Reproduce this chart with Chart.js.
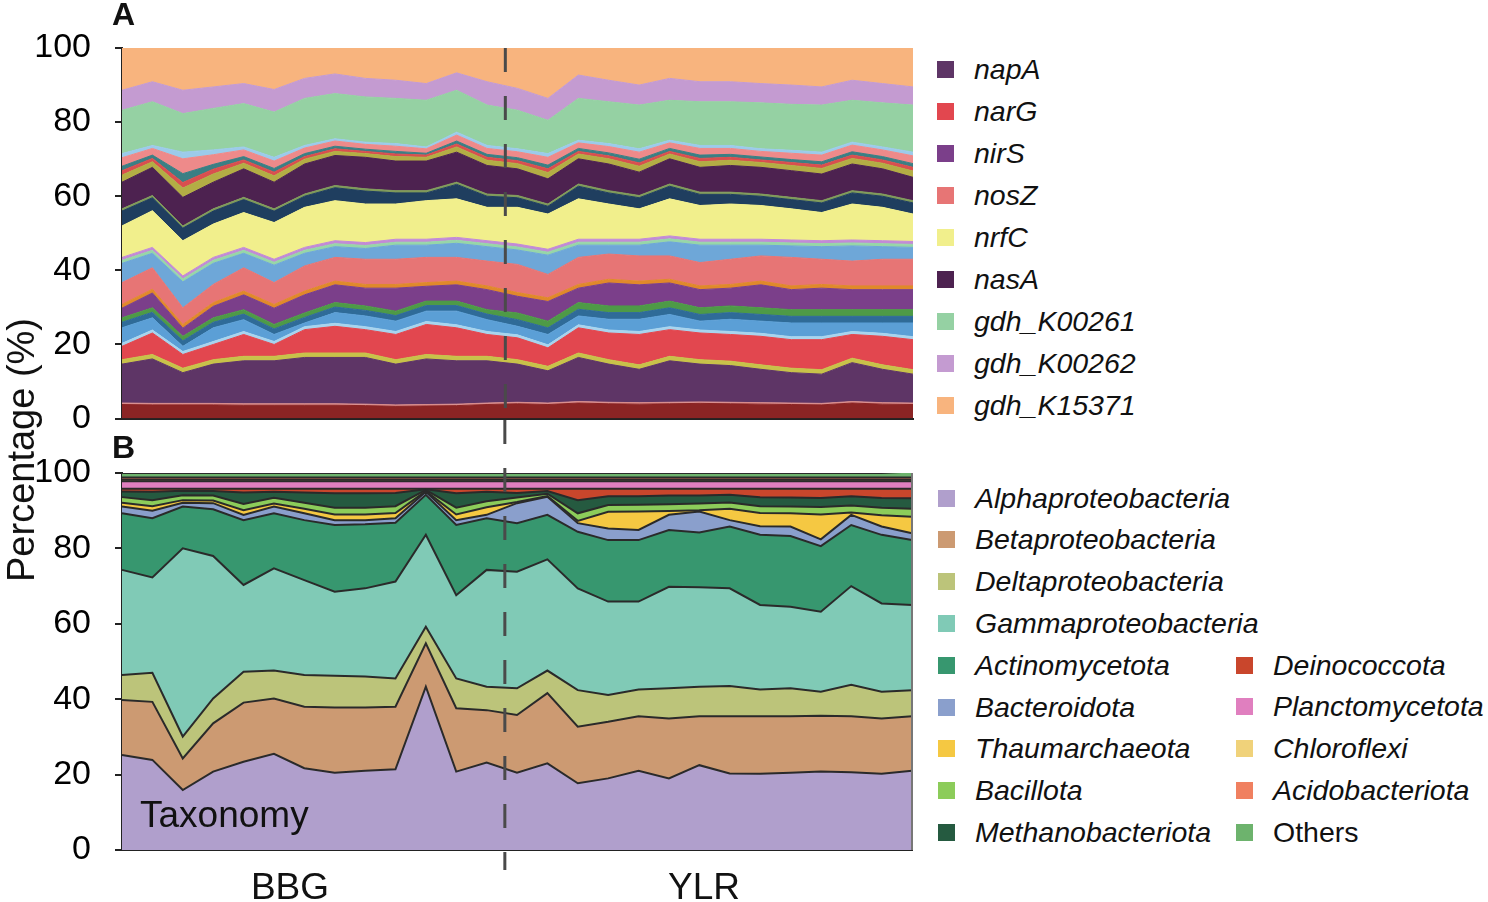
<!DOCTYPE html>
<html>
<head>
<meta charset="utf-8">
<script src="https://cdn.jsdelivr.net/npm/chart.js@4.4.1/dist/chart.umd.min.js"></script>
<style>
body{margin:0;background:#fff;font-family:"Liberation Sans",Arial,sans-serif;color:#111;}
#fig{position:relative;width:1488px;height:902px;overflow:hidden;}
#chartA{position:absolute;left:0;top:0;}
#chartB{position:absolute;left:0;top:420px;}
.panel{position:absolute;font-weight:bold;font-size:32px;line-height:1;}
.ytitle{position:absolute;left:21px;top:450px;transform:translate(-50%,-50%) rotate(-90deg);font-size:38px;line-height:1;white-space:nowrap;}
.item{position:absolute;height:30px;display:flex;align-items:center;font-size:28.5px;font-style:italic;white-space:nowrap;}
.item.plain{font-style:normal;}
.sw{width:17px;height:17px;margin-right:20px;flex:none;}
.txt{position:absolute;font-size:37px;line-height:1;white-space:nowrap;}
</style>
</head>
<body>
<div id="fig">
  <canvas id="chartA" width="930" height="463" style="width:930px;height:463px"></canvas>
  <canvas id="chartB" width="930" height="482" style="width:930px;height:482px"></canvas>
  <div class="panel" style="left:112px;top:-2px">A</div>
  <div class="panel" style="left:112px;top:431px">B</div>
  <div class="ytitle">Percentage (%)</div>
  <div class="txt" style="left:140px;top:796px">Taxonomy</div>
  <div class="txt" style="left:290px;top:868px;transform:translateX(-50%)">BBG</div>
  <div class="txt" style="left:704px;top:868px;transform:translateX(-50%)">YLR</div>
  <div id="legendA"></div>
  <div id="legendB"></div>
</div>
<script>
// samples: 13 from BBG, 14 from YLR
const samples = ['BBG1','BBG2','BBG3','BBG4','BBG5','BBG6','BBG7','BBG8','BBG9','BBG10','BBG11','BBG12','BBG13',
  'YLR1','YLR2','YLR3','YLR4','YLR5','YLR6','YLR7','YLR8','YLR9','YLR10','YLR11','YLR12','YLR13','YLR14'];
const groupSplit = 12.6; // where the dashed divider sits between the two sites
const yTicks = [0, 20, 40, 60, 80, 100];

// ---- panel A: N-cycle genes, bottom to top (%)
const geneBase   = [3.8,3.7,3.7,3.7,3.6,3.6,3.6,3.6,3.5,3.3,3.4,3.5,3.8,4.0,3.8,4.2,4.0,3.9,4.0,4.1,4.0,3.9,3.8,3.7,4.2,3.9,3.8];
const genePink   = [0.4,0.4,0.4,0.4,0.4,0.4,0.4,0.4,0.4,0.4,0.4,0.4,0.4,0.4,0.4,0.4,0.4,0.4,0.4,0.4,0.4,0.4,0.4,0.4,0.4,0.4,0.4];
const napA       = [10.5,12.0,8.3,10.6,11.6,11.6,12.5,12.5,12.6,11.0,12.3,11.7,11.4,10.3,8.7,11.9,10.3,9.0,11.2,10.2,9.9,9.0,8.2,7.9,10.5,9.0,7.8];
const geneOlive  = [1.2,1.2,1.2,1.2,1.2,1.2,1.2,1.2,1.2,1.2,1.2,1.2,1.2,1.2,1.2,1.2,1.2,1.2,1.2,1.2,1.2,1.2,1.2,1.2,1.2,1.2,1.2];
const narG       = [3.6,5.8,3.7,4.1,5.9,3.2,6.3,7.2,6.3,6.8,8.1,7.7,5.9,5.9,5.0,6.8,7.2,8.2,7.2,7.2,7.2,7.7,7.7,8.1,6.4,7.7,8.1];
const geneSky    = [0.8,0.8,0.8,0.8,0.8,0.8,0.8,0.8,0.8,0.8,0.8,0.8,0.8,0.8,0.8,0.8,0.8,0.8,0.8,0.8,0.8,0.8,0.8,0.8,0.8,0.8,0.8];
const geneBlue   = [4.2,3.3,1.4,3.7,3.2,1.9,1.0,2.9,2.9,2.8,2.8,3.7,3.2,2.3,2.8,2.4,2.9,3.3,3.3,2.4,3.3,3.3,3.7,3.7,2.3,2.8,3.7];
const geneTeal   = [1.5,1.5,1.5,1.5,1.5,1.5,1.5,1.5,1.5,1.5,1.5,1.5,1.5,1.8,1.8,1.8,1.8,1.8,1.8,1.8,1.8,1.8,1.8,1.8,1.8,1.8,1.8];
const geneGreen  = [1.2,1.2,1.2,1.2,1.2,1.2,1.2,1.2,1.2,1.2,1.2,1.2,1.2,1.8,1.8,1.8,1.8,1.8,1.8,1.8,1.8,1.8,1.8,1.8,1.8,1.8,1.8];
const nirS       = [2.6,4.0,2.2,3.1,4.0,4.4,4.9,4.8,4.8,6.2,4.0,4.4,5.4,4.5,5.3,3.9,6.2,5.7,4.9,4.9,4.8,6.2,5.4,5.8,5.4,5.4,5.4];
const geneOrange = [1.0,1.0,1.0,1.0,1.0,1.0,1.0,1.0,1.0,1.0,1.0,1.0,1.0,1.0,1.0,1.0,1.0,1.0,1.0,1.0,1.0,1.0,1.0,1.0,1.0,1.0,1.0];
const nosZ       = [5.9,5.8,4.5,4.9,6.3,5.9,6.8,6.4,6.8,6.8,6.8,6.4,6.7,7.6,6.3,7.3,6.8,6.8,6.3,6.3,6.8,6.8,7.7,6.8,6.7,7.2,7.2];
const geneLtBlue = [5.2,3.9,7.0,5.7,3.9,4.7,3.4,2.9,2.9,3.8,3.3,3.8,3.9,3.9,5.2,3.3,2.4,2.9,3.8,4.7,3.8,2.9,3.1,3.4,4.1,3.4,3.2];
const geneMint   = [0.8,0.8,0.8,0.8,0.8,0.8,0.8,0.8,0.8,0.8,0.8,0.8,0.8,0.8,0.8,0.8,0.8,0.8,0.8,0.8,0.8,0.8,0.8,0.8,0.8,0.8,0.8];
const geneLilac  = [0.8,0.8,0.8,0.8,0.8,0.8,0.8,0.8,0.8,0.8,0.8,0.8,0.8,0.8,0.8,0.8,0.8,0.8,0.8,0.8,0.8,0.8,0.8,0.8,0.8,0.8,0.8];
const nrfC       = [8.5,9.9,9.5,9.0,9.4,9.9,10.8,10.8,10.4,9.5,10.4,10.4,9.0,9.9,9.5,10.9,9.5,8.2,10.0,9.1,9.5,9.1,8.4,7.6,9.7,9.0,7.4];
const geneNavy   = [4.0,3.5,3.4,3.5,3.5,3.1,3.0,3.5,3.5,3.0,2.1,3.9,3.0,2.6,2.1,3.4,3.0,3.0,3.4,3.0,2.6,2.5,2.5,2.6,3.0,3.0,3.0];
const geneMoss   = [0.6,0.6,0.6,0.6,0.6,0.6,0.6,0.6,0.6,0.6,0.6,0.6,0.6,0.6,0.6,0.6,0.6,0.6,0.6,0.6,0.6,0.6,0.6,0.6,0.6,0.6,0.6];
const nasA       = [7.2,7.6,7.7,7.2,7.7,7.2,8.1,8.1,8.5,8.0,8.0,8.1,7.7,7.2,6.8,6.8,7.2,6.3,6.8,6.7,7.2,7.2,7.2,7.2,7.2,6.8,6.3];
const geneMisc1  = [1.9,1.5,2.5,2.2,1.5,1.7,1.3,1.1,1.0,1.2,1.0,1.4,1.4,1.4,1.7,1.3,1.4,1.6,1.3,1.5,1.4,1.3,1.4,1.5,1.5,1.5,1.7];
const geneMisc2  = [1.2,0.9,1.5,1.3,0.9,1.0,0.7,0.7,0.6,0.7,0.6,0.8,0.8,0.8,1.0,0.7,0.8,0.9,0.7,0.9,0.8,0.7,0.8,0.9,0.9,0.9,1.0];
const geneMisc3  = [1.2,0.9,2.4,1.3,0.9,1.0,0.8,0.7,0.6,0.7,0.5,0.8,0.8,0.8,1.0,0.8,0.8,1.0,0.8,0.9,0.8,0.8,0.8,0.9,0.9,0.9,1.0];
const geneMisc4  = [2.3,1.8,4.0,2.6,1.8,2.0,1.5,1.4,1.3,1.4,1.2,1.6,1.6,1.6,2.1,1.5,1.7,1.9,1.5,1.8,1.6,1.5,1.7,1.8,1.8,1.8,2.1];
const geneMisc5  = [1.1,0.8,1.8,1.3,0.8,1.0,0.7,0.6,0.6,0.7,0.5,0.8,0.8,0.8,1.0,0.7,0.8,0.9,0.7,0.8,0.8,0.7,0.8,0.8,0.8,0.8,1.0];
const gdhK00261  = [11.7,11.8,10.4,11.2,11.7,12.2,12.7,12.2,12.2,12.2,12.6,11.3,10.9,10.4,9.0,11.3,11.3,11.8,10.8,11.8,11.8,12.4,12.4,12.7,11.3,11.9,12.7];
const gdhK00262  = [5.4,5.4,6.3,5.8,5.4,6.1,5.4,5.3,5.0,4.9,4.5,4.7,6.3,5.9,5.9,6.3,5.8,5.4,5.9,5.4,5.4,5.2,5.2,4.9,5.4,5.2,4.9];
const gdhK15371  = [11.7,9.4,11.7,10.8,9.9,11.5,8.5,7.3,8.5,9.0,9.9,7.0,9.4,11.2,13.9,7.6,9.0,10.3,8.5,9.4,9.4,9.9,10.3,10.8,9.0,9.9,10.8];

// ---- panel B: taxonomy, bottom to top (%)
const alpha     = [25.2,23.9,15.9,20.8,23.4,25.5,21.7,20.5,21.0,21.4,43.3,20.8,23.2,20.5,23.0,17.7,19.0,21.0,19.0,22.5,20.3,20.2,20.5,20.8,20.6,20.2,21.0];
const beta      = [14.6,15.4,8.4,12.8,15.7,14.7,16.3,17.3,16.8,16.6,11.5,16.8,13.9,15.3,18.6,15.0,15.0,14.5,15.9,13.0,15.2,15.3,15.0,14.8,14.9,14.7,14.5];
const delta     = [6.6,7.7,5.8,6.6,8.2,7.4,8.4,8.4,8.2,7.5,4.4,7.9,6.2,7.1,6.0,9.7,7.1,7.1,8.0,7.8,8.0,7.1,7.4,6.4,8.3,7.1,6.9];
const gamma     = [27.9,25.3,49.9,37.8,23.0,27.1,25.2,22.3,23.4,25.7,24.4,22.1,31.0,30.9,29.5,27.0,24.8,23.3,26.9,26.4,25.9,22.4,21.6,21.2,26.2,23.4,22.6];
const actino    = [15.0,15.7,11.1,12.4,17.2,14.6,15.9,17.7,17.0,15.6,10.6,18.6,13.7,12.9,11.8,15.0,16.3,16.3,15.1,14.5,16.4,18.6,18.8,17.4,16.2,18.2,17.2];
const bacteroid = [1.8,2.0,1.0,1.6,1.4,1.8,1.8,1.3,1.1,1.2,0.8,1.3,0.9,5.3,4.8,2.3,3.1,2.7,4.0,5.6,1.7,2.3,2.5,1.8,2.7,2.2,1.8];
const thaum     = [1.0,1.2,0.7,0.7,1.2,0.8,1.2,1.5,1.5,1.4,0.2,1.5,2.0,0.3,0.2,0.6,4.4,4.9,1.0,0.3,3.0,3.5,3.5,6.6,0.6,3.0,4.4];
const bacillota = [1.5,1.6,1.3,1.3,1.7,1.5,1.6,1.8,1.8,1.8,0.3,1.8,1.6,1.2,0.6,2.0,1.8,1.8,1.8,1.8,1.7,1.8,1.8,2.0,1.9,2.0,2.1];
const methano   = [1.5,2.2,1.2,1.2,3.0,1.6,2.7,3.8,3.8,3.5,0.2,3.8,2.5,1.2,0.7,3.5,2.3,2.2,2.3,2.1,2.0,2.4,2.4,2.4,2.4,2.6,2.8];
const deino     = [0.7,0.8,0.5,0.6,1.0,0.8,1.0,1.2,1.2,1.1,0.1,1.2,0.8,1.1,0.6,3.0,2.0,2.0,1.8,1.8,1.6,2.2,2.3,2.4,2.0,2.4,2.5];
const plancto   = [2.0,2.0,2.0,2.0,2.0,2.0,2.0,2.0,2.0,2.0,2.0,2.0,2.0,2.0,2.0,2.0,2.0,2.0,2.0,2.0,2.0,2.0,2.0,2.0,2.0,2.0,2.0];
const chloro    = [0.4,0.4,0.4,0.4,0.4,0.4,0.4,0.4,0.4,0.4,0.4,0.4,0.4,0.4,0.4,0.4,0.4,0.4,0.4,0.4,0.4,0.4,0.4,0.4,0.4,0.4,0.4];
const acido     = [0.6,0.6,0.6,0.6,0.6,0.6,0.6,0.6,0.6,0.6,0.6,0.6,0.6,0.6,0.6,0.6,0.6,0.6,0.6,0.6,0.6,0.6,0.6,0.6,0.6,0.6,0.6];
const others    = [1.2,1.2,1.2,1.2,1.2,1.2,1.2,1.2,1.2,1.2,1.2,1.2,1.2,1.2,1.2,1.2,1.2,1.2,1.2,1.2,1.2,1.2,1.2,1.2,1.2,1.2,1.6];

// layer lists (name, data, colour, shown in legend?)
const geneLayers = [
  ['other gene 1', geneBase, '#8b2424', false],
  ['other gene 2', genePink, '#d98c8c', false],
  ['napA', napA, '#5e3566', true],
  ['other gene 3', geneOlive, '#c8c24a', false],
  ['narG', narG, '#e2474f', true],
  ['other gene 4', geneSky, '#a8d4ee', false],
  ['other gene 5', geneBlue, '#5b9fd6', false],
  ['other gene 6', geneTeal, '#2f6b98', false],
  ['other gene 7', geneGreen, '#4e9a47', false],
  ['nirS', nirS, '#7b3f8a', true],
  ['other gene 8', geneOrange, '#e0892b', false],
  ['nosZ', nosZ, '#e77575', true],
  ['other gene 9', geneLtBlue, '#6ea7d8', false],
  ['other gene 10', geneMint, '#97d6a8', false],
  ['other gene 11', geneLilac, '#c28bd6', false],
  ['nrfC', nrfC, '#f1ef8c', true],
  ['other gene 12', geneNavy, '#1f3e5f', false],
  ['other gene 13', geneMoss, '#7f9a5a', false],
  ['nasA', nasA, '#4d2250', true],
  ['other gene 14', geneMisc1, '#b3ad45', false],
  ['other gene 15', geneMisc2, '#d94f4f', false],
  ['other gene 16', geneMisc3, '#3b7f84', false],
  ['other gene 17', geneMisc4, '#ee8a8a', false],
  ['other gene 18', geneMisc5, '#9ccbea', false],
  ['gdh_K00261', gdhK00261, '#95d1a3', true],
  ['gdh_K00262', gdhK00262, '#c49bd1', true],
  ['gdh_K15371', gdhK15371, '#f8b47e', true]
];
const taxaLayers = [
  ['Alphaproteobacteria', alpha, '#b09fcc'],
  ['Betaproteobacteria', beta, '#cc9a72'],
  ['Deltaproteobacteria', delta, '#bcc47a'],
  ['Gammaproteobacteria', gamma, '#80cab6'],
  ['Actinomycetota', actino, '#37976f'],
  ['Bacteroidota', bacteroid, '#8a9fcc'],
  ['Thaumarchaeota', thaum, '#f5c842'],
  ['Bacillota', bacillota, '#8ccc5a'],
  ['Methanobacteriota', methano, '#255a40'],
  ['Deinococcota', deino, '#c9462c'],
  ['Planctomycetota', plancto, '#e07fbf'],
  ['Chloroflexi', chloro, '#f0d27a'],
  ['Acidobacteriota', acido, '#f08060'],
  ['Others', others, '#6db36d']
];

// dashed divider + optional right frame line
const dividerPlugin = {
  id: 'divider',
  afterDatasetsDraw(chart, args, opts){
    const ctx = chart.ctx, area = chart.chartArea;
    const x = chart.scales.x.getPixelForValue(groupSplit);
    ctx.save();
    if(opts.frameRight){
      ctx.strokeStyle = '#777'; ctx.lineWidth = 2;
      ctx.beginPath(); ctx.moveTo(area.right, area.top); ctx.lineTo(area.right, area.bottom); ctx.stroke();
    }
    ctx.strokeStyle = '#4a4a4a'; ctx.lineWidth = 3; ctx.setLineDash([24, 24]);
    ctx.beginPath(); ctx.moveTo(x, opts.from); ctx.lineTo(x, opts.to); ctx.stroke();
    ctx.restore();
  }
};

function makeOptions(pad, xHeight, divider){
  return {
    responsive: false,
    animation: false,
    devicePixelRatio: 1,
    layout: { padding: pad },
    elements: { point: { radius: 0, hoverRadius: 0 }, line: { tension: 0 } },
    plugins: { legend: { display: false }, tooltip: { enabled: false }, divider },
    scales: {
      x: {
        type: 'category',
        offset: false,
        grid: { display: false },
        ticks: { display: false },
        border: { display: true, color: '#222', width: 2 },
        afterFit(s){ s.height = xHeight; }
      },
      y: {
        stacked: true, min: 0, max: 100,
        afterBuildTicks(s){ s.ticks = yTicks.map(v => ({ value: v })); },
        ticks: { color: '#000', padding: 24, font: { family: 'Liberation Sans', size: 34 } },
        grid: { display: true, drawOnChartArea: false, drawTicks: true, tickLength: 7, color: '#222', lineWidth: 2 },
        border: { display: true, color: '#222', width: 2 },
        afterFit(s){ s.width = 122; }
      }
    }
  };
}

new Chart(document.getElementById('chartA'), {
  type: 'line',
  data: {
    labels: samples,
    datasets: geneLayers.map((g, i) => ({
      label: g[0], data: g[1],
      backgroundColor: g[2], borderColor: g[2], borderWidth: 1,
      fill: i === 0 ? 'origin' : '-1'
    }))
  },
  options: makeOptions({ top: 48, right: 17, left: 0, bottom: 0 }, 13, { from: 48, to: 420 }),
  plugins: [dividerPlugin]
});

new Chart(document.getElementById('chartB'), {
  type: 'line',
  data: {
    labels: samples,
    datasets: taxaLayers.map((t, i) => ({
      label: t[0], data: t[1],
      backgroundColor: t[2], borderColor: '#2a2a2a', borderWidth: 2,
      fill: i === 0 ? 'origin' : '-1'
    }))
  },
  options: makeOptions({ top: 53, right: 18, left: 0, bottom: 0 }, 52, { from: 0, to: 450, frameRight: true }),
  plugins: [dividerPlugin]
});

// HTML legends
function addItem(parent, left, cy, name, color, plain){
  const d = document.createElement('div');
  d.className = 'item' + (plain ? ' plain' : '');
  d.style.left = left + 'px';
  d.style.top = (cy - 15) + 'px';
  d.innerHTML = '<span class="sw" style="background:' + color + '"></span><span>' + name + '</span>';
  parent.appendChild(d);
}
const legA = document.getElementById('legendA');
geneLayers.filter(g => g[3]).forEach((g, i) => addItem(legA, 937, 69 + i * 42, g[0], g[2], false));
const legB = document.getElementById('legendB');
taxaLayers.forEach((t, i) => {
  if(i < 9) addItem(legB, 938, 498 + i * 41.8, t[0], t[2], false);
  else addItem(legB, 1236, 665 + (i - 9) * 41.8, t[0], t[2], t[0] === 'Others');
});
</script>
</body>
</html>
